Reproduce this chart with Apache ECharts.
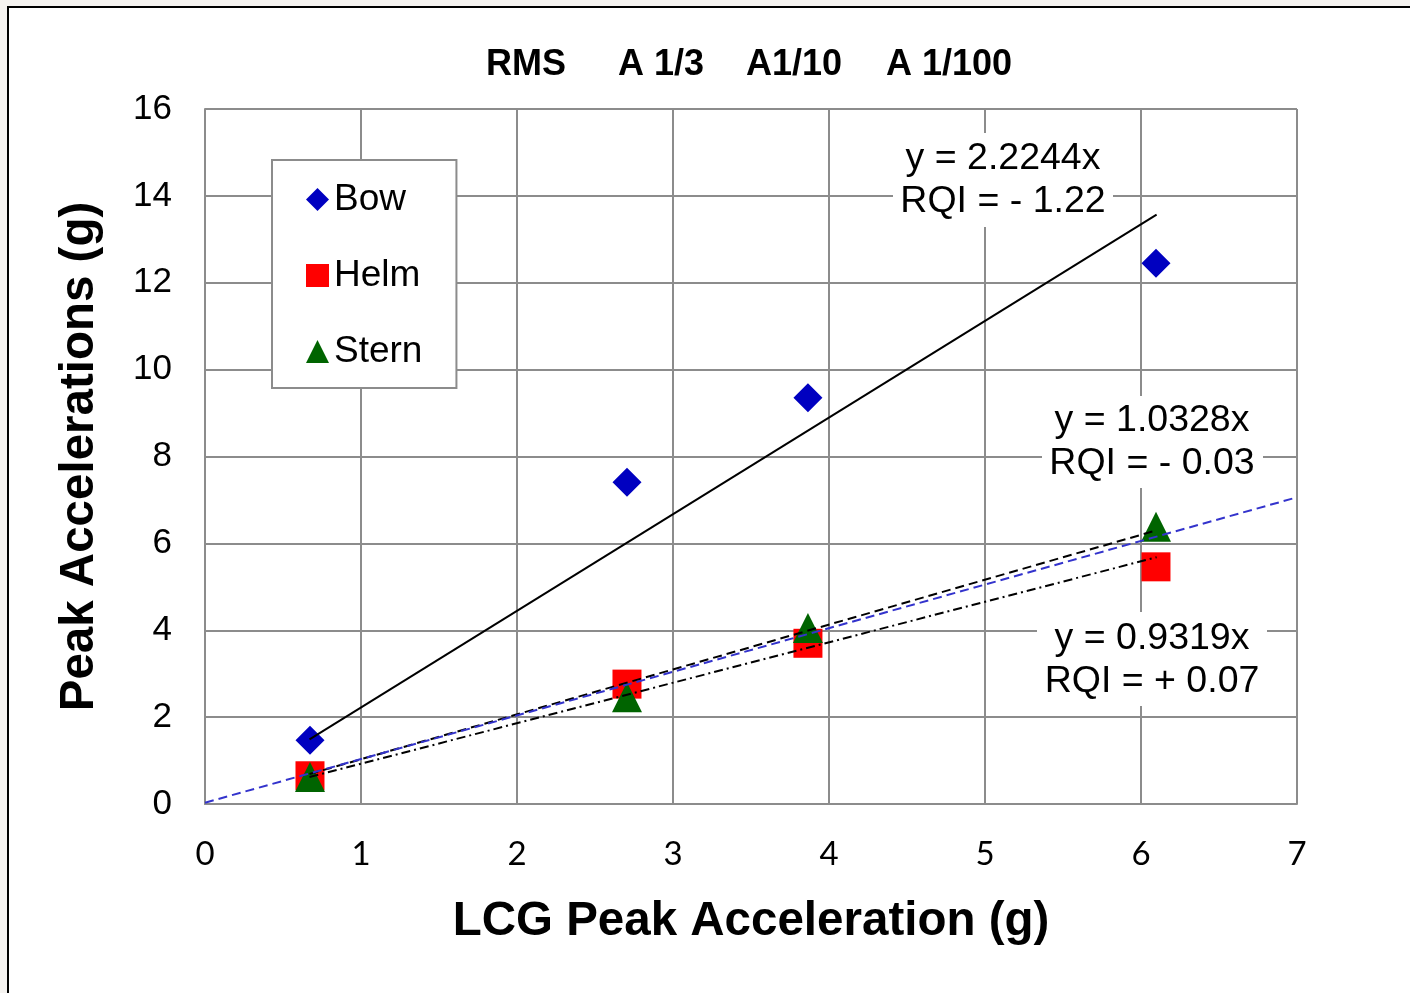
<!DOCTYPE html>
<html>
<head>
<meta charset="utf-8">
<script src="https://cdn.jsdelivr.net/npm/echarts@6/dist/echarts.min.js"></script>
<style>
html,body{margin:0;padding:0;background:#f5f3f0;overflow:hidden;}
#frame{position:absolute;left:7px;top:6px;width:1500px;height:1100px;background:#fff;border-left:2px solid #000;border-top:2px solid #000;}
#chart{position:absolute;left:0;top:0;width:1410px;height:993px;}
</style>
</head>
<body>
<div id="frame"></div>
<div id="chart"></div>
<script>
// ---- data ----
const xValues = [0.673, 2.705, 3.865, 6.096];
const bowValues = [1.47, 7.41, 9.35, 12.45];
const helmValues = [0.65, 2.76, 3.70, 5.46];
const sternValues = [0.62, 2.46, 4.05, 6.38];
const bowFit = [[0.67, 1.49], [6.1, 13.57]];
const sternFit = [[0.67, 0.69], [6.1, 6.30]];
const helmFit = [[0.67, 0.62], [6.1, 5.68]];
const unityLine = [[0, 0.03], [6.97, 7.03]];
const xTicks = [0, 1, 2, 3, 4, 5, 6, 7];
const yTicks = [0, 2, 4, 6, 8, 10, 12, 14, 16];
const headerLabels = ['RMS', 'A 1/3', 'A1/10', 'A 1/100'];
const fitLabels = [
  ['y = 2.2244x', 'RQI = - 1.22'],
  ['y = 1.0328x', 'RQI = - 0.03'],
  ['y = 0.9319x', 'RQI = + 0.07']
];

const pair = (xs, ys) => xs.map((x, i) => [x, ys[i]]);
const FONT = "'Liberation Sans', Arial, sans-serif";
const GRID = '#8c8c8c';

const chart = echarts.init(document.getElementById('chart'));

const headerX = [526, 661, 794, 949];
const boxes = [
  {x: 893, y: 133, w: 220, h: 94, cx: 1003, ty: 159},
  {x: 1042, y: 396, w: 221, h: 92, cx: 1152, ty: 421},
  {x: 1037, y: 612, w: 230, h: 94, cx: 1152, ty: 639}
];

const graphics = [];
headerLabels.forEach((t, i) => {
  graphics.push({type: 'text', x: headerX[i], y: 65, z: 10,
    style: {text: t, font: "bold 36px " + FONT, fill: '#000', align: 'center', verticalAlign: 'middle'}});
});
fitLabels.forEach((lines, i) => {
  const b = boxes[i];
  graphics.push({type: 'rect', shape: {x: b.x, y: b.y, width: b.w, height: b.h}, z: 5,
    style: {fill: '#fff'}});
  graphics.push({type: 'text', x: b.cx, y: b.ty, z: 6,
    style: {text: lines[0], font: "37.5px " + FONT, fill: '#000', align: 'center', verticalAlign: 'middle'}});
  graphics.push({type: 'text', x: b.cx, y: b.ty + 43, z: 6,
    style: {text: lines[1], font: "37.5px " + FONT, fill: '#000', align: 'center', verticalAlign: 'middle'}});
});

const option = {
  animation: false,
  backgroundColor: 'transparent',
  grid: {left: 205, top: 109, right: 113, bottom: 189, show: false},
  xAxis: {
    type: 'value', min: xTicks[0], max: xTicks[xTicks.length - 1], interval: 1,
    name: 'LCG Peak Acceleration (g)', nameLocation: 'middle', nameGap: 94,
    nameTextStyle: {fontFamily: FONT, fontWeight: 'bold', fontSize: 47.5, color: '#000'},
    axisLine: {show: true, lineStyle: {color: GRID, width: 2}},
    axisTick: {show: false},
    splitLine: {show: true, lineStyle: {color: GRID, width: 2}},
    axisLabel: {fontFamily: "Lato, 'Open Sans', sans-serif", fontSize: 33, color: '#000', margin: 34}
  },
  yAxis: {
    type: 'value', min: yTicks[0], max: yTicks[yTicks.length - 1], interval: 2,
    name: 'Peak Accelerations (g)', nameLocation: 'middle', nameGap: 101, nameRotate: 90,
    nameTextStyle: {fontFamily: FONT, fontWeight: 'bold', fontSize: 47.5, color: '#000'},
    axisLine: {show: true, lineStyle: {color: GRID, width: 2}},
    axisTick: {show: false},
    splitLine: {show: true, lineStyle: {color: GRID, width: 2}},
    axisLabel: {fontFamily: FONT, fontSize: 35, color: '#000', margin: 33,
      padding: [7, 0, 0, 0]}
  },
  legend: {
    orient: 'vertical', left: 272, top: 160,
    data: [
      {name: 'Bow', icon: 'diamond'},
      {name: 'Helm', icon: 'rect'},
      {name: 'Stern', icon: 'triangle'}
    ],
    itemWidth: 23, itemHeight: 23, itemGap: 39,
    padding: [21, 34, 18, 34],
    backgroundColor: '#fff', borderColor: GRID, borderWidth: 2, borderRadius: 0,
    textStyle: {fontFamily: FONT, fontSize: 37, color: '#000'},
    z: 8
  },
  graphic: graphics,
  series: [
    {name: 'Bow', type: 'scatter', symbol: 'diamond', symbolSize: 29, z: 2,
      itemStyle: {color: '#0000c0', opacity: 1}, data: pair(xValues, bowValues)},
    {name: 'Helm', type: 'scatter', symbol: 'rect', symbolSize: 29, z: 2,
      itemStyle: {color: '#ff0000', opacity: 1}, data: pair(xValues, helmValues)},
    {name: 'Stern', type: 'scatter', symbol: 'triangle', symbolSize: 30, z: 2,
      itemStyle: {color: '#006400', opacity: 1}, data: pair(xValues, sternValues)},
    {name: 'Bow fit', type: 'line', symbol: 'none', z: 3, silent: true,
      lineStyle: {color: '#000', width: 2, type: 'solid'}, data: bowFit},
    {name: 'Stern fit', type: 'line', symbol: 'none', z: 3, silent: true,
      lineStyle: {color: '#000', width: 2, type: [9, 5]}, data: sternFit},
    {name: 'Helm fit', type: 'line', symbol: 'none', z: 3, silent: true,
      lineStyle: {color: '#000', width: 2, type: [9, 4, 2, 4]}, data: helmFit},
    {name: 'Unity', type: 'line', symbol: 'none', z: 3, silent: true,
      lineStyle: {color: '#3333cc', width: 2, type: [9, 5]}, data: unityLine}
  ]
};
chart.setOption(option);
</script>
</body>
</html>
